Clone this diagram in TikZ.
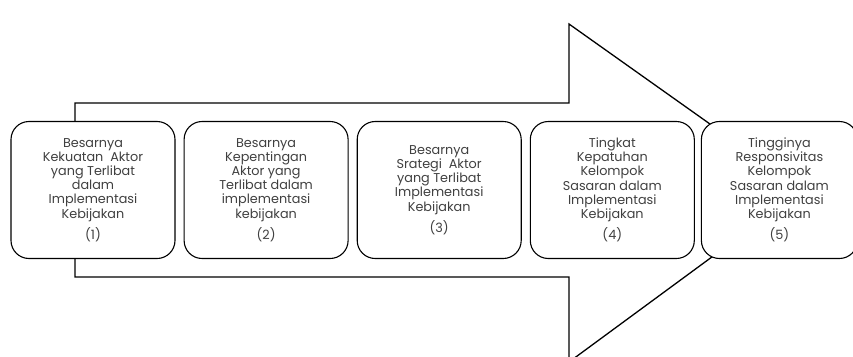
\documentclass[tikz,border=0pt]{standalone}
\usepackage{fontspec}
\setmainfont{Poppins}
\usetikzlibrary{positioning}
\tikzset{Box/.style={draw, fill=white, rounded corners=18pt, line width=1.1pt,
    minimum width=164pt, minimum height=137pt, inner sep=2pt, align=center,
    text=black!75, font=\fontsize{12.8}{14.2}\selectfont}}
\tikzset{Shaft/.style={draw, line width=1.3pt, line join=miter}}
\newcommand{\Num}[1]{\\[5pt]#1}

\begin{document}
\begin{tikzpicture}[x=1pt, y=-1pt, node distance=8pt]
    \useasboundingbox (0,0) rectangle (853,356);

    %% big arrow behind the boxes
    \coordinate (a0) at (75,103);
    \coordinate (a1) at (569,103);
    \coordinate (a2) at (569,24);
    \coordinate (tip) at (803,190);
    \coordinate (a3) at (569,362);
    \coordinate (a4) at (569,277);
    \coordinate (a5) at (75,277);
    \draw [Shaft] (a0) -- (a1) -- (a2) -- (tip) -- (a3) -- (a4) -- (a5) -- cycle;

    %% the five steps
    \node [Box] (b1) at (93,190) {Besarnya\\Kekuatan~~Aktor\\yang Terlibat\\dalam\\Implementasi\\Kebijakan\Num{(1)}};
    \node [Box, right=of b1] (b2) {Besarnya\\Kepentingan\\Aktor yang\\Terlibat dalam\\implementasi\\kebijakan\Num{(2)}};
    \node [Box, right=of b2] (b3) {Besarnya\\Srategi~~Aktor\\yang Terlibat\\Implementasi\\Kebijakan\Num{(3)}};
    \node [Box, right=of b3] (b4) {Tingkat\\Kepatuhan\\Kelompok\\Sasaran dalam\\Implementasi\\Kebijakan\Num{(4)}};
    \node [Box, right=6pt of b4, minimum width=156pt] (b5) {Tingginya\\Responsivitas\\Kelompok\\Sasaran dalam\\Implementasi\\Kebijakan\Num{(5)}};

\end{tikzpicture}
\end{document}
